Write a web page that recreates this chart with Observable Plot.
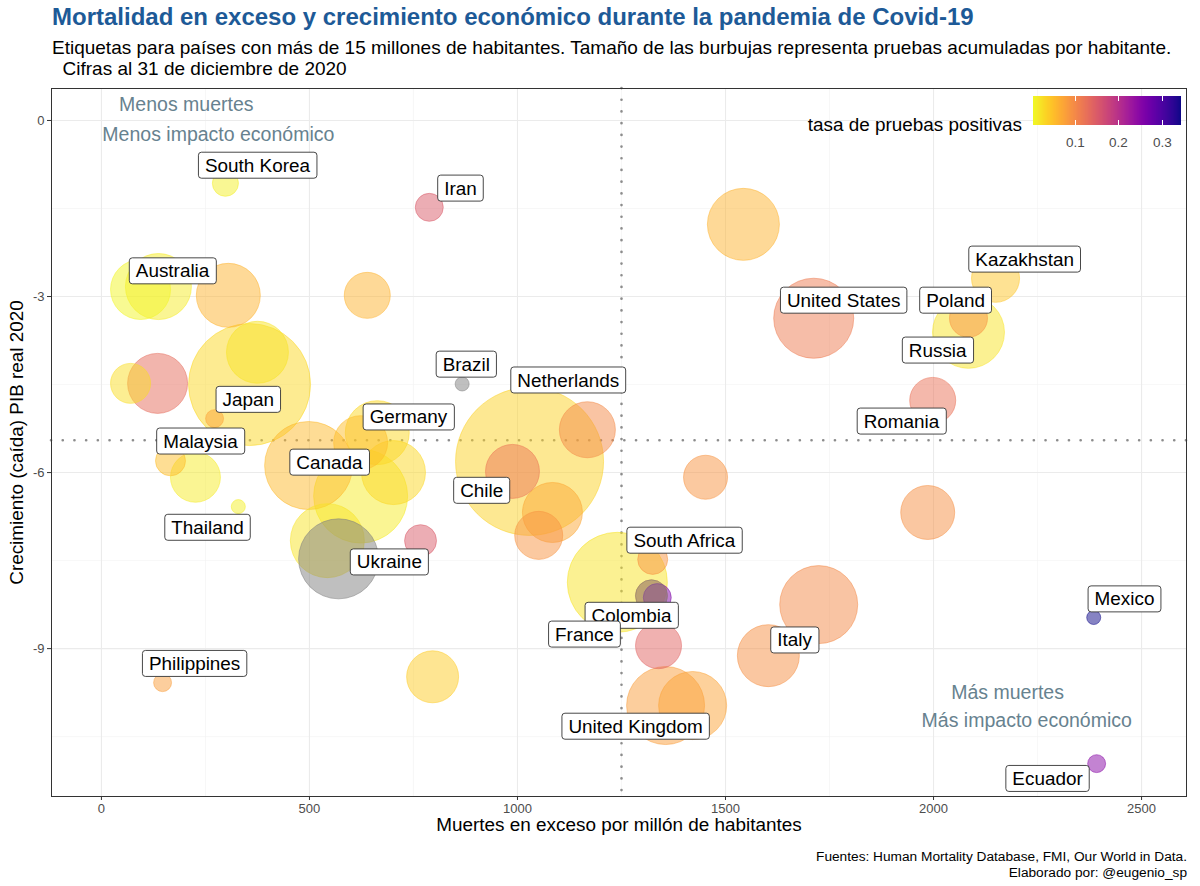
<!DOCTYPE html>
<html><head><meta charset="utf-8">
<script src="https://cdn.jsdelivr.net/npm/d3@7"></script>
<script src="https://cdn.jsdelivr.net/npm/@observablehq/plot@0.6"></script>
<style>
body{margin:0;background:#fff;}
#wrap{position:relative;width:1200px;height:886px;font-family:"Liberation Sans",Arial,Helvetica,sans-serif;color:#000;overflow:hidden;background:#fff}
.title{position:absolute;left:52px;top:3px;font-size:24px;line-height:28px;font-weight:bold;color:#1d5a97;white-space:nowrap}
.sub{position:absolute;left:52px;top:37px;font-size:19px;line-height:21px;white-space:pre}
#chart{position:absolute;left:0;top:80px}
.cap{position:absolute;right:13px;top:849px;font-size:13.7px;line-height:16px;text-align:right}
#legend{position:absolute;left:1033px;top:96px}
.legtitle{position:absolute;right:178px;top:114px;font-size:18.9px;line-height:22px;white-space:nowrap}
#chart g[aria-label^="x-axis"] text,#chart g[aria-label^="y-axis"] text{font-size:13px;fill:#4d4d4d}
#chart g[aria-label^="x-axis"],#chart g[aria-label^="y-axis"]{color:#333}
#legend text{font-size:13.5px;fill:#4d4d4d;font-family:"Liberation Sans",Arial,sans-serif}
</style></head>
<body>
<div id="wrap">
  <div class="title">Mortalidad en exceso y crecimiento económico durante la pandemia de Covid-19</div>
  <div class="sub">Etiquetas para países con más de 15 millones de habitantes. Tamaño de las burbujas representa pruebas acumuladas por habitante.
  Cifras al 31 de diciembre de 2020</div>
  <div id="chart"></div>
  <div class="legtitle">tasa de pruebas positivas</div>
  <div id="legend"></div>
  <div class="cap">Fuentes: Human Mortality Database, FMI, Our World in Data.<br>Elaborado por: @eugenio_sp</div>
</div>
<script>
// ---- data ----
const country = ["South Korea","Iran","Australia","","","","","","","","Japan","","Germany","Malaysia","","Thailand","Canada","","","","Ukraine","","Brazil","","Chile","Netherlands","","","France","South Africa","","Colombia","","","United Kingdom","","","Philippines","","United States","Kazakhstan","Russia","Poland","Romania","","","Italy","","Mexico","Ecuador"];
const excessDeaths = [298,788,94,137,305,639,356,375,70,135,272,663,623,166,226,329,498,623,702,543,570,767,867,1029,988,1168,1084,1051,1240,1325,1322,1336,1322,1339,1356,1421,796,147,1543,1712,2149,2084,2084,1998,1452,1986,1603,1724,2385,2392];
const gdpGrowth = [-1.07,-1.48,-2.88,-2.83,-2.98,-2.98,-4.5,-3.95,-4.48,-4.48,-5.08,-5.32,-5.49,-5.8,-6.08,-6.58,-5.88,-6.4,-6.0,-7.16,-7.47,-7.16,-4.49,-5.81,-5.98,-5.27,-6.68,-7.07,-7.87,-7.48,-8.1,-8.13,-8.1,-8.95,-9.97,-9.97,-9.48,-9.58,-1.77,-3.37,-2.69,-3.61,-3.37,-4.77,-6.08,-6.68,-9.12,-8.25,-8.47,-10.96];
const positiveRate = [0.01,0.15,0.006,0.015,0.06,0.06,0.03,0.02,0.025,0.13,0.075,0.03,0.05,0.05,0.015,0.01,0.055,0.015,0.03,0.02,null,0.15,null,0.035,0.12,0.1,0.07,0.09,0.02,0.09,null,0.26,0.08,0.14,0.08,0.075,0.04,0.08,0.06,0.115,0.045,0.02,0.09,0.125,0.09,0.095,0.095,0.1,0.345,0.25];
const testsPerCapita = [0.093,0.107,0.493,0.597,0.561,0.29,2.039,0.526,0.219,0.493,0.044,0.561,0.399,0.123,0.342,0.027,1.061,1.21,0.561,0.75,0.877,0.14,0.027,3.0,0.399,0.43,0.493,0.316,1.37,0.123,0.14,0.107,0.14,0.29,0.833,0.634,0.37,0.044,0.71,0.877,0.316,0.71,0.198,0.29,0.265,0.399,0.526,0.833,0.027,0.044];

// label anchors (data units), as placed by the repel algorithm in the original
const labelCountry = ["South Korea","Iran","Australia","Brazil","Netherlands","Japan","Germany","Malaysia","Canada","Chile","Thailand","Ukraine","South Africa","Colombia","France","Philippines","United Kingdom","Italy","United States","Poland","Kazakhstan","Russia","Romania","Mexico","Ecuador"];
const labelX = [375,863,171,877,1122,353,738,238,548,914,255,692,1401,1274,1161,224,1284,1666,1784,2053,2219,2010,1923,2459,2274];
const labelY = [-0.77,-1.16,-2.57,-4.16,-4.43,-4.76,-5.06,-5.47,-5.83,-6.31,-6.94,-7.53,-7.16,-8.44,-8.76,-9.26,-10.33,-8.86,-3.07,-3.07,-2.37,-3.92,-5.13,-8.16,-11.22];

const notes = ["Menos muertes","Menos impacto económico","Más muertes","Más impacto económico"];
const noteX = [204,281,2178,2224];
const noteY = [0.26,-0.24,-9.75,-10.23];

const xTicks = [0,500,1000,1500,2000,2500];
const xMinor = [250,750,1250,1750,2250];
const yTicks = [0,-3,-6,-9];
const yMinor = [-1.5,-4.5,-7.5,-10.5];
const refX = [1250];
const refY = [-5.45];
const legendTicks = [0.1,0.2,0.3];
const rateDomain = [0.003,0.345];

// ---- build ----
const data = country.map((c,i)=>({country:c,x:excessDeaths[i],y:gdpGrowth[i],rate:positiveRate[i],tests:testsPerCapita[i]}));
const labels = labelCountry.map((c,i)=>({country:c,x:labelX[i],y:labelY[i]}));
const noteData = notes.map((t,i)=>({t,x:noteX[i],y:noteY[i]}));
const colorOpts = {type:"linear",scheme:"plasma",reverse:true,domain:rateDomain};

const svg = Plot.plot({
  width:1200, height:765,
  marginTop:8, marginBottom:49, marginLeft:51, marginRight:14,
  style:{fontFamily:'"Liberation Sans",Arial,Helvetica,sans-serif',fontSize:"13px",background:"transparent"},
  x:{domain:[-120,2608],ticks:xTicks,tickSize:4,tickPadding:3,label:null,tickFormat:d=>String(d)},
  y:{domain:[-11.52,0.545],ticks:yTicks,tickSize:4,tickPadding:3,label:null,tickFormat:d=>String(d)},
  r:{type:"sqrt",domain:[0,3],range:[0,74]},
  color:colorOpts,
  marks:[
    Plot.ruleX(xMinor,{stroke:"#f2f2f2",strokeWidth:0.6}),
    Plot.ruleY(yMinor,{stroke:"#f2f2f2",strokeWidth:0.6}),
    Plot.ruleX(xTicks,{stroke:"#ebebeb",strokeWidth:1.1}),
    Plot.ruleY(yTicks,{stroke:"#ebebeb",strokeWidth:1.1}),
    Plot.ruleX(refX,{stroke:"#8c8c8c",strokeWidth:2.6,strokeDasharray:"0.1 11.6",strokeLinecap:"round"}),
    Plot.ruleY(refY,{stroke:"#8c8c8c",strokeWidth:2.6,strokeDasharray:"0.1 11.6",strokeLinecap:"round"}),
    Plot.dot(data.filter(d=>d.rate!=null),{x:"x",y:"y",r:"tests",fill:"rate",stroke:"rate",fillOpacity:0.5,strokeOpacity:0.5,strokeWidth:1}),
    Plot.dot(data.filter(d=>d.rate==null),{x:"x",y:"y",r:"tests",fill:"#7f7f7f",stroke:"#7f7f7f",fillOpacity:0.5,strokeOpacity:0.5,strokeWidth:1}),
    Plot.text(noteData,{x:"x",y:"y",text:"t",fill:"#67828f",fontSize:19.5}),
    Plot.text(labels,{x:"x",y:"y",text:"country",fill:"#000",fontSize:18.9}),
    Plot.text(["Muertes en exceso por millón de habitantes"],{frameAnchor:"bottom",dy:34,fontSize:18.9,fill:"#000",textAnchor:"middle"}),
    Plot.text(["Crecimiento (caída) PIB real 2020"],{frameAnchor:"left",dx:-35,rotate:-90,fontSize:18.9,fill:"#000",textAnchor:"middle"}),
    Plot.frame({stroke:"#333",strokeWidth:1})
  ]
});
document.getElementById("chart").appendChild(svg);

// label boxes (ggrepel style)
const labelSet = new Set(labelCountry);
const NS = "http://www.w3.org/2000/svg";
svg.querySelectorAll("text").forEach(t=>{
  if(!labelSet.has(t.textContent)) return;
  const bb = t.getBBox();
  const r = document.createElementNS(NS,"rect");
  const h = 26;
  r.setAttribute("x",bb.x-6.5); r.setAttribute("y",bb.y+bb.height/2-h/2);
  r.setAttribute("width",bb.width+13); r.setAttribute("height",h);
  r.setAttribute("rx",3); r.setAttribute("fill","#fff");
  r.setAttribute("stroke","#333"); r.setAttribute("stroke-width",0.9);
  if(t.getAttribute("transform")) r.setAttribute("transform",t.getAttribute("transform"));
  t.parentNode.insertBefore(r,t);
});

// colour legend
const leg = Plot.legend({
  color:colorOpts, label:null, width:148, height:51,
  marginTop:0, marginBottom:22, marginLeft:0, marginRight:0,
  tickSize:9, ticks:legendTicks, tickFormat:d=>String(d),
  style:{background:"transparent",fontSize:"13.5px",color:"#4d4d4d"}
});
document.getElementById("legend").appendChild(leg);
leg.querySelectorAll(".tick line").forEach(l=>{
  l.setAttribute("stroke","#fff"); l.setAttribute("y1",-5); l.setAttribute("y2",0);
  const c = l.cloneNode(); c.setAttribute("y1",-29); c.setAttribute("y2",-24);
  l.parentNode.appendChild(c);
});
</script>
</body></html>
